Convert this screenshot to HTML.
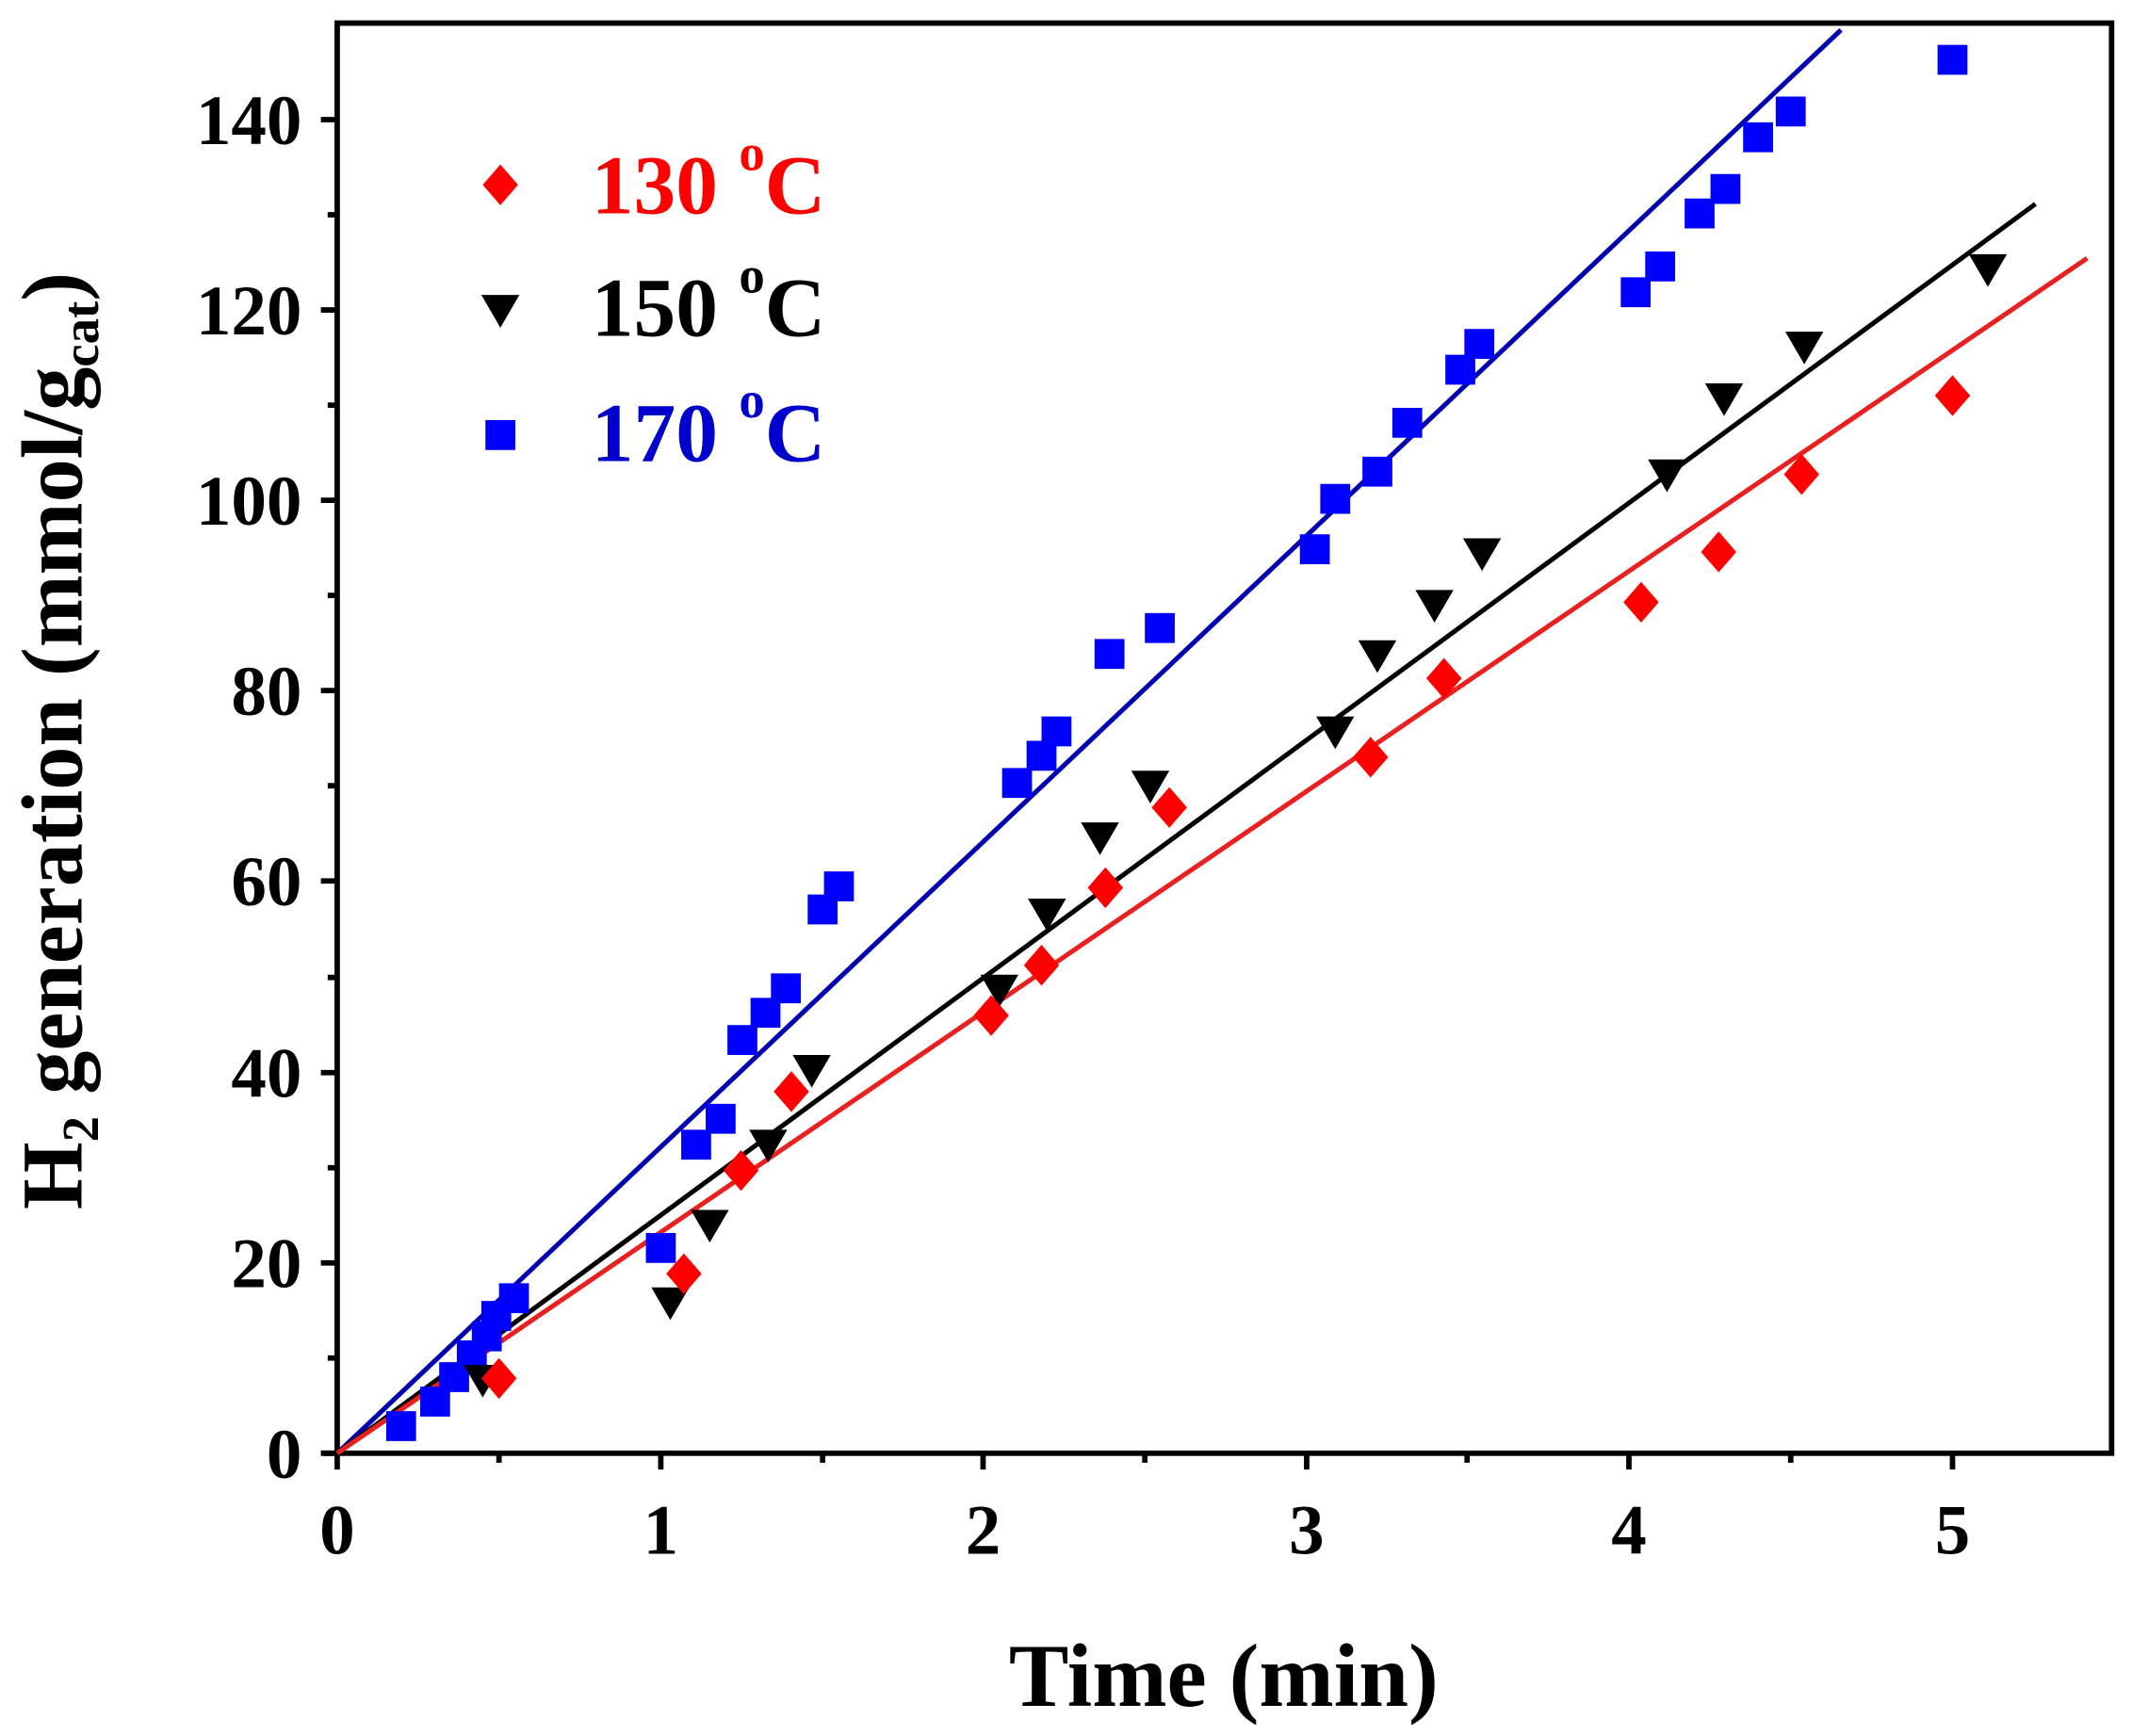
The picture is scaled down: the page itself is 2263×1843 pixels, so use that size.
<!DOCTYPE html>
<html><head><meta charset="utf-8"><style>html,body{margin:0;padding:0;background:#fff}svg{display:block}</style></head>
<body>
<svg width="2263" height="1843" viewBox="0 0 1568 1277" xmlns="http://www.w3.org/2000/svg" font-family="Liberation Serif, serif">
<rect width="1568" height="1277" fill="#fff"/>
<g stroke="#000" stroke-width="4" fill="none">
<rect x="248" y="17" width="1305" height="1052"/>
<line x1="238" y1="1069" x2="248" y2="1069"/>
<path d="M248 1069v12M486 1069v12M723 1069v12M961 1069v12M1198 1069v12M1436 1069v12"/>
<path d="M367 1069v7M605 1069v7M842 1069v7M1079 1069v7M1317 1069v7"/>
<path d="M236 1069h12M236 929h12M236 789h12M236 648h12M236 508h12M236 368h12M236 228h12M236 88h12"/>
<path d="M241 999h7M241 859h7M241 719h7M241 578h7M241 438h7M241 298h7M241 158h7"/>
</g>
<g font-size="52" font-weight="bold" text-anchor="end">
<text x="222" y="1087">0</text><text x="222" y="947">20</text><text x="222" y="807">40</text>
<text x="222" y="666">60</text><text x="222" y="526">80</text><text x="222" y="386">100</text>
<text x="222" y="246">120</text><text x="222" y="106">140</text>
</g>
<g font-size="52" font-weight="bold" text-anchor="middle">
<text x="248" y="1143">0</text><text x="486" y="1143">1</text><text x="723" y="1143">2</text>
<text x="961" y="1143">3</text><text x="1198" y="1143">4</text><text x="1436" y="1143">5</text>
</g>
<text x="900" y="1255" font-size="66" font-weight="bold" text-anchor="middle">Time (min)</text>
<text transform="translate(60,545) rotate(-90)" font-size="64" font-weight="bold" text-anchor="middle">H<tspan font-size="38" dy="12">2</tspan><tspan dy="-12"> generation (mmol/g</tspan><tspan font-size="38" dy="12">cat</tspan><tspan dy="-12">)</tspan></text>
<g stroke-width="3.5">
<line x1="248" y1="1069" x2="1354" y2="22" stroke="#0000b0"/>
<line x1="248" y1="1069" x2="1497" y2="150" stroke="#000"/>
<line x1="248" y1="1069" x2="1535" y2="190" stroke="#e82020"/>
</g>
<g fill="#0000ff">
<path d="M-11 -11h22v22h-22z" transform="translate(295,1049)"/>
<path d="M-11 -11h22v22h-22z" transform="translate(320,1031)"/>
<path d="M-11 -11h22v22h-22z" transform="translate(334,1013)"/>
<path d="M-11 -11h22v22h-22z" transform="translate(347,997)"/>
<path d="M-11 -11h22v22h-22z" transform="translate(358,983)"/>
<path d="M-11 -11h22v22h-22z" transform="translate(365,968)"/>
<path d="M-11 -11h22v22h-22z" transform="translate(378,955)"/>
<path d="M-11 -11h22v22h-22z" transform="translate(486,918)"/>
<path d="M-11 -11h22v22h-22z" transform="translate(512,842)"/>
<path d="M-11 -11h22v22h-22z" transform="translate(530,823)"/>
<path d="M-11 -11h22v22h-22z" transform="translate(546,765)"/>
<path d="M-11 -11h22v22h-22z" transform="translate(563,745)"/>
<path d="M-11 -11h22v22h-22z" transform="translate(578,727)"/>
<path d="M-11 -11h22v22h-22z" transform="translate(605,669)"/>
<path d="M-11 -11h22v22h-22z" transform="translate(617,652)"/>
<path d="M-11 -11h22v22h-22z" transform="translate(748,576)"/>
<path d="M-11 -11h22v22h-22z" transform="translate(766,556)"/>
<path d="M-11 -11h22v22h-22z" transform="translate(777,538)"/>
<path d="M-11 -11h22v22h-22z" transform="translate(816,481)"/>
<path d="M-11 -11h22v22h-22z" transform="translate(853,462)"/>
<path d="M-11 -11h22v22h-22z" transform="translate(967,404)"/>
<path d="M-11 -11h22v22h-22z" transform="translate(982,367)"/>
<path d="M-11 -11h22v22h-22z" transform="translate(1013,347)"/>
<path d="M-11 -11h22v22h-22z" transform="translate(1035,311)"/>
<path d="M-11 -11h22v22h-22z" transform="translate(1074,272)"/>
<path d="M-11 -11h22v22h-22z" transform="translate(1088,253)"/>
<path d="M-11 -11h22v22h-22z" transform="translate(1203,215)"/>
<path d="M-11 -11h22v22h-22z" transform="translate(1221,196)"/>
<path d="M-11 -11h22v22h-22z" transform="translate(1250,157)"/>
<path d="M-11 -11h22v22h-22z" transform="translate(1269,139)"/>
<path d="M-11 -11h22v22h-22z" transform="translate(1293,101)"/>
<path d="M-11 -11h22v22h-22z" transform="translate(1317,82)"/>
<path d="M-11 -11h22v22h-22z" transform="translate(1436,44)"/>
<path d="M-11 -11h22v22h-22z" transform="translate(368,320)"/>
</g>
<g fill="#000">
<path d="M-14 -11h28l-14 24z" transform="translate(355,1015)"/>
<path d="M-14 -11h28l-14 24z" transform="translate(493,958)"/>
<path d="M-14 -11h28l-14 24z" transform="translate(522,901)"/>
<path d="M-14 -11h28l-14 24z" transform="translate(565,842)"/>
<path d="M-14 -11h28l-14 24z" transform="translate(597,787)"/>
<path d="M-14 -11h28l-14 24z" transform="translate(735,728)"/>
<path d="M-14 -11h28l-14 24z" transform="translate(770,672)"/>
<path d="M-14 -11h28l-14 24z" transform="translate(809,616)"/>
<path d="M-14 -11h28l-14 24z" transform="translate(846,578)"/>
<path d="M-14 -11h28l-14 24z" transform="translate(982,538)"/>
<path d="M-14 -11h28l-14 24z" transform="translate(1013,482)"/>
<path d="M-14 -11h28l-14 24z" transform="translate(1055,445)"/>
<path d="M-14 -11h28l-14 24z" transform="translate(1090,407)"/>
<path d="M-14 -11h28l-14 24z" transform="translate(1226,349)"/>
<path d="M-14 -11h28l-14 24z" transform="translate(1268,293)"/>
<path d="M-14 -11h28l-14 24z" transform="translate(1327,255)"/>
<path d="M-14 -11h28l-14 24z" transform="translate(1462,198)"/>
<path d="M-14 -11h28l-14 24z" transform="translate(368,228)"/>
</g>
<g fill="#ff0000">
<path d="M0 -15l13 15l-13 15l-13 -15z" transform="translate(367,1014)"/>
<path d="M0 -15l13 15l-13 15l-13 -15z" transform="translate(503,937)"/>
<path d="M0 -15l13 15l-13 15l-13 -15z" transform="translate(545,861)"/>
<path d="M0 -15l13 15l-13 15l-13 -15z" transform="translate(582,803)"/>
<path d="M0 -15l13 15l-13 15l-13 -15z" transform="translate(729,747)"/>
<path d="M0 -15l13 15l-13 15l-13 -15z" transform="translate(766,710)"/>
<path d="M0 -15l13 15l-13 15l-13 -15z" transform="translate(813,653)"/>
<path d="M0 -15l13 15l-13 15l-13 -15z" transform="translate(860,594)"/>
<path d="M0 -15l13 15l-13 15l-13 -15z" transform="translate(1008,557)"/>
<path d="M0 -15l13 15l-13 15l-13 -15z" transform="translate(1062,499)"/>
<path d="M0 -15l13 15l-13 15l-13 -15z" transform="translate(1207,443)"/>
<path d="M0 -15l13 15l-13 15l-13 -15z" transform="translate(1264,406)"/>
<path d="M0 -15l13 15l-13 15l-13 -15z" transform="translate(1325,349)"/>
<path d="M0 -15l13 15l-13 15l-13 -15z" transform="translate(1436,291)"/>
<path d="M0 -15l13 15l-13 15l-13 -15z" transform="translate(368,136)"/>
</g>
<g font-size="62" font-weight="bold">
<text x="435" y="157" fill="#ff0000">130 <tspan font-size="38" dy="-32">o</tspan><tspan dy="32">C</tspan></text>
<text x="435" y="247" fill="#000">150 <tspan font-size="38" dy="-32">o</tspan><tspan dy="32">C</tspan></text>
<text x="435" y="339" fill="#0000cc">170 <tspan font-size="38" dy="-32">o</tspan><tspan dy="32">C</tspan></text>
</g>
</svg>
</body></html>
